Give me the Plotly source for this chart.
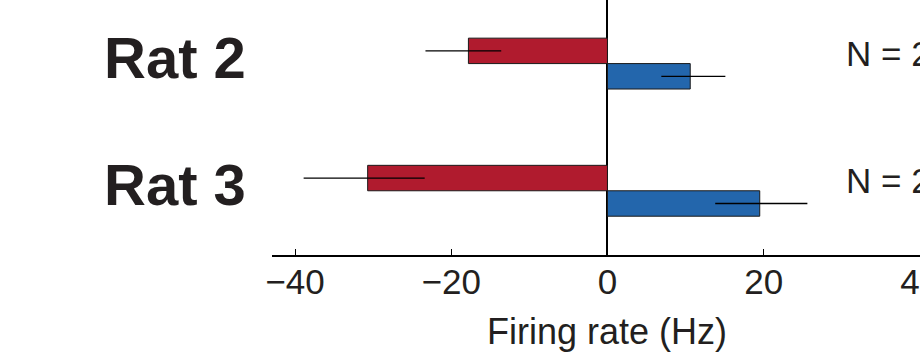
import plotly.graph_objects as go

rats = ["Rat 2", "Rat 3"]
red_vals = [-17.8, -30.7]
red_err_plus = [4.2, 7.3]
red_err_minus = [5.5, 8.2]
blue_vals = [10.6, 19.5]
blue_err_plus = [4.5, 6.1]
blue_err_minus = [3.7, 5.7]
n_labels = ["N = 2", "N = 2"]
x_ticks = [-40, -20, 0, 20, 40]
x_title = "Firing rate (Hz)"

RED = "#B01B2E"
BLUE = "#2366AC"
FONT = "Liberation Sans, Arial, sans-serif"
TXT = "#231F20"

fig = go.Figure()
fig.add_trace(go.Bar(
    y=rats, x=red_vals, orientation="h",
    marker=dict(color=RED, line=dict(color="#1a1a1a", width=1)),
    error_x=dict(type="data", symmetric=False, array=red_err_plus,
                 arrayminus=red_err_minus, color="black", thickness=1.3, width=0),
    showlegend=False,
))
fig.add_trace(go.Bar(
    y=rats, x=blue_vals, orientation="h",
    marker=dict(color=BLUE, line=dict(color="#1a1a1a", width=1)),
    error_x=dict(type="data", symmetric=False, array=blue_err_plus,
                 arrayminus=blue_err_minus, color="black", thickness=1.3, width=0),
    showlegend=False,
))

# Category labels (bold, left of plot)
for r in rats:
    fig.add_annotation(x=0, y=r, xref="paper", yref="y", text=r,
                       showarrow=False, xanchor="right", yanchor="middle",
                       xshift=-24, yshift=6,
                       font=dict(family=FONT, size=58, color=TXT, weight="bold"))

# N labels (cut at right edge as in reference)
for r, lab in zip(rats, n_labels):
    fig.add_annotation(x=30.3, y=r, xref="x", yref="y", text=lab,
                       showarrow=False, xanchor="left", yanchor="middle",
                       yshift=10, font=dict(family=FONT, size=35, color=TXT))

fig.add_annotation(x=0, y=0, xref="x", yref="paper", text=x_title,
                   showarrow=False, xanchor="center", yanchor="top",
                   yshift=-54, font=dict(family=FONT, size=36, color=TXT))

fig.update_layout(
    width=920, height=354,
    margin=dict(l=272, r=0, t=0, b=99, pad=0, autoexpand=False),
    paper_bgcolor="white", plot_bgcolor="white",
    barmode="group", bargap=0.6, bargroupgap=0,
    font=dict(family=FONT, color=TXT),
)
fig.update_xaxes(
    range=[-42.95, 40.02], showgrid=False, automargin=False,
    showline=True, linecolor="black", linewidth=1.5,
    zeroline=True, zerolinecolor="black", zerolinewidth=1.5,
    ticks="inside", ticklen=6, tickwidth=1, tickcolor="black",
    tickvals=x_ticks, tickfont=dict(family=FONT, size=35, color=TXT),
    ticklabelstandoff=-5, ticklabeloverflow="allow",
)
fig.update_yaxes(
    type="category", range=[1.505, -0.5], showgrid=False, showline=False,
    zeroline=False, showticklabels=False, ticks="", automargin=False,
)

fig.write_html("out.html")
